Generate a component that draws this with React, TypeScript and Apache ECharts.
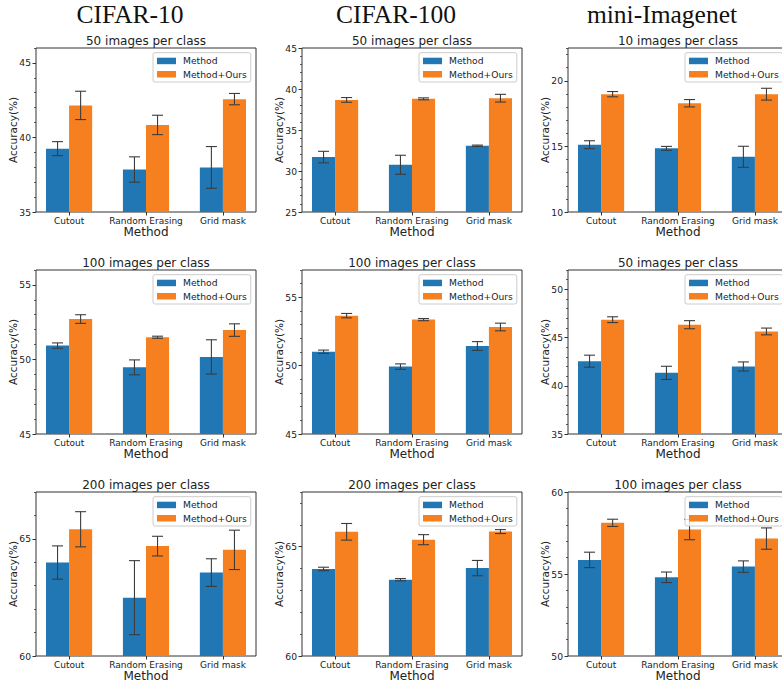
import React, { useEffect, useRef } from "react";
import * as echarts from "echarts";

// ---------- data ----------
const categories = ["Cutout", "Random Erasing", "Grid mask"];
const datasetNames = ["CIFAR-10", "CIFAR-100", "mini-Imagenet"];
const seriesNames = ["Method", "Method+Ours"];

const panelTitles = [
  ["50 images per class", "50 images per class", "10 images per class"],
  ["100 images per class", "100 images per class", "50 images per class"],
  ["200 images per class", "200 images per class", "100 images per class"],
];

// CIFAR-10
const c10_50_method = [39.25, 37.85, 37.99];
const c10_50_methodErr = [0.47, 0.85, 1.4];
const c10_50_ours = [42.15, 40.84, 42.57];
const c10_50_oursErr = [0.95, 0.65, 0.38];
const c10_100_method = [50.93, 49.47, 50.17];
const c10_100_methodErr = [0.18, 0.5, 1.15];
const c10_100_ours = [52.71, 51.49, 51.97];
const c10_100_oursErr = [0.29, 0.07, 0.42];
const c10_200_method = [63.99, 62.49, 63.56];
const c10_200_methodErr = [0.71, 1.58, 0.59];
const c10_200_ours = [65.41, 64.69, 64.53];
const c10_200_oursErr = [0.75, 0.42, 0.84];

// CIFAR-100
const c100_50_method = [31.7, 30.76, 33.08];
const c100_50_methodErr = [0.7, 1.16, 0.08];
const c100_50_ours = [38.67, 38.8, 38.88];
const c100_50_oursErr = [0.29, 0.12, 0.47];
const c100_100_method = [51.02, 49.93, 51.44];
const c100_100_methodErr = [0.12, 0.2, 0.32];
const c100_100_ours = [53.66, 53.37, 52.83];
const c100_100_oursErr = [0.16, 0.08, 0.28];
const c100_200_method = [63.98, 63.49, 64.02];
const c100_200_methodErr = [0.08, 0.05, 0.35];
const c100_200_ours = [65.68, 65.32, 65.69];
const c100_200_oursErr = [0.38, 0.23, 0.09];

// mini-Imagenet
const mini_10_method = [15.13, 14.85, 14.21];
const mini_10_methodErr = [0.3, 0.15, 0.8];
const mini_10_ours = [18.98, 18.29, 18.98];
const mini_10_oursErr = [0.2, 0.28, 0.45];
const mini_50_method = [42.55, 41.34, 42.0];
const mini_50_methodErr = [0.62, 0.68, 0.47];
const mini_50_ours = [46.85, 46.33, 45.63];
const mini_50_oursErr = [0.3, 0.42, 0.35];
const mini_100_method = [55.86, 54.8, 55.45];
const mini_100_methodErr = [0.47, 0.32, 0.35];
const mini_100_ours = [58.12, 57.71, 57.16];
const mini_100_oursErr = [0.22, 0.62, 0.65];

// axis limits and tick labels, [row][col]
const yLimits = [
  [[35, 46], [25, 45], [10, 22.5]],
  [[45, 56], [45, 57], [35, 52]],
  [[60, 67], [60, 67.5], [50, 60]],
];
const yTicks = [
  [[35, 40, 45], [25, 30, 35, 40, 45], [10, 15, 20]],
  [[45, 50, 55], [45, 50, 55], [35, 40, 45, 50]],
  [[60, 65], [60, 65], [50, 55, 60]],
];

const panelData = [
  [
    [c10_50_method, c10_50_methodErr, c10_50_ours, c10_50_oursErr],
    [c100_50_method, c100_50_methodErr, c100_50_ours, c100_50_oursErr],
    [mini_10_method, mini_10_methodErr, mini_10_ours, mini_10_oursErr],
  ],
  [
    [c10_100_method, c10_100_methodErr, c10_100_ours, c10_100_oursErr],
    [c100_100_method, c100_100_methodErr, c100_100_ours, c100_100_oursErr],
    [mini_50_method, mini_50_methodErr, mini_50_ours, mini_50_oursErr],
  ],
  [
    [c10_200_method, c10_200_methodErr, c10_200_ours, c10_200_oursErr],
    [c100_200_method, c100_200_methodErr, c100_200_ours, c100_200_oursErr],
    [mini_100_method, mini_100_methodErr, mini_100_ours, mini_100_oursErr],
  ],
];

// ---------- style / layout ----------
const W = 782;
const H = 687;
const BLUE = "#2077b4";
const ORANGE = "#f6801f";
const ERR = "#3c3c3c";
const AXIS = "#333333";
const TXT = "#222222";
const SANS = "DejaVu Sans";
const PLOT_W = 220;
const PLOT_H = 164;
const COL_LEFT = [36, 302, 568];
const ROW_TOP = [48, 270, 492];
const BAR_W = 0.3;
const CAP = 5.5;
const X_MIN = -0.43;
const X_MAX = 2.43;

function buildOption() {
  const grid: any[] = [];
  const xAxis: any[] = [];
  const yAxis: any[] = [];
  const series: any[] = [];
  const legend: any[] = [];
  const graphic: any[] = [];

  for (let c = 0; c < 3; c++) {
    graphic.push({
      type: "text",
      x: COL_LEFT[c] + 94,
      y: 14.5,
      style: {
        text: datasetNames[c],
        font: "25.5px 'Liberation Serif'",
        fill: "#111",
        textAlign: "center",
        textVerticalAlign: "middle",
      },
    });
  }

  for (let r = 0; r < 3; r++) {
    for (let c = 0; c < 3; c++) {
      const k = r * 3 + c;
      const left = COL_LEFT[c];
      const top = ROW_TOP[r];
      const [lo, hi] = yLimits[r][c];
      const ticks = yTicks[r][c];
      const [mVals, mErr, oVals, oErr] = panelData[r][c];

      grid.push({
        left,
        top,
        width: PLOT_W,
        height: PLOT_H,
        show: true,
        borderColor: AXIS,
        borderWidth: 1,
        backgroundColor: "transparent",
        containLabel: false,
        outerBoundsMode: "none",
      });

      xAxis.push({
        type: "value",
        gridIndex: k,
        position: "bottom",
        min: X_MIN,
        max: X_MAX,
        name: "Method",
        nameLocation: "middle",
        nameGap: 13,
        nameTextStyle: { fontFamily: SANS, fontSize: 12, color: TXT },
        axisLine: { show: false, onZero: false },
        splitLine: { show: false },
        axisTick: {
          show: true,
          length: 3.5,
          customValues: [0, 1, 2],
          lineStyle: { color: AXIS, width: 1 },
        },
        axisLabel: {
          show: true,
          customValues: [0, 1, 2],
          margin: 4,
          fontFamily: SANS,
          fontSize: 9,
          color: TXT,
          formatter: (v: number) => categories[Math.round(v)] ?? "",
        },
      });

      yAxis.push({
        type: "value",
        gridIndex: k,
        position: "left",
        min: lo,
        max: hi,
        name: "Accuracy(%)",
        nameLocation: "middle",
        nameGap: 18,
        nameMoveOverlap: false,
        nameTextStyle: { fontFamily: SANS, fontSize: 10.5, color: TXT },
        axisLine: { show: false, onZero: false },
        splitLine: { show: false },
        axisTick: {
          show: true,
          length: 3.5,
          customValues: ticks,
          lineStyle: { color: AXIS, width: 1 },
        },
        axisLabel: {
          show: true,
          customValues: ticks,
          margin: 5,
          fontFamily: SANS,
          fontSize: 9.2,
          color: TXT,
        },
      });
      // minor ticks
      yAxis.push({
        type: "value",
        gridIndex: k,
        position: "left",
        offset: 0,
        min: lo,
        max: hi,
        interval: 1,
        axisLine: { show: false, onZero: false },
        splitLine: { show: false },
        axisLabel: { show: false },
        axisTick: { show: true, length: 2, lineStyle: { color: AXIS, width: 0.8 } },
      });

      const makeBars = (name: string, vals: number[], color: string, side: number) => ({
        type: "custom",
        name,
        xAxisIndex: k,
        yAxisIndex: 2 * k,
        silent: true,
        clip: true,
        itemStyle: { color },
        data: vals.map((v, i) => [i, v]),
        renderItem: (params: any, api: any) => {
          const x = api.value(0);
          const y = api.value(1);
          const a = api.coord([x + (side < 0 ? -BAR_W : 0), y]);
          const b = api.coord([x + (side < 0 ? 0 : BAR_W), y]);
          const cs = params.coordSys;
          const bottom = cs.y + cs.height;
          return {
            type: "rect",
            shape: { x: a[0], y: a[1], width: b[0] - a[0], height: bottom - a[1] },
            style: { fill: color },
          };
        },
        z: 2,
      });

      const makeErr = (name: string, vals: number[], errs: number[], side: number) => ({
        type: "custom",
        name,
        xAxisIndex: k,
        yAxisIndex: 2 * k,
        silent: true,
        clip: true,
        data: vals.map((v, i) => [i, v, errs[i]]),
        renderItem: (params: any, api: any) => {
          const x = api.value(0) + side * (BAR_W / 2);
          const v = api.value(1);
          const e = api.value(2);
          const t = api.coord([x, v + e]);
          const b = api.coord([x, v - e]);
          const st = { stroke: ERR, lineWidth: 1.1 };
          return {
            type: "group",
            children: [
              { type: "line", shape: { x1: t[0], y1: t[1], x2: b[0], y2: b[1] }, style: st },
              { type: "line", shape: { x1: t[0] - CAP, y1: t[1], x2: t[0] + CAP, y2: t[1] }, style: st },
              { type: "line", shape: { x1: b[0] - CAP, y1: b[1], x2: b[0] + CAP, y2: b[1] }, style: st },
            ],
          };
        },
        z: 3,
      });

      series.push(makeBars(seriesNames[0], mVals, BLUE, -1));
      series.push(makeBars(seriesNames[1], oVals, ORANGE, 1));
      series.push(makeErr("err-" + seriesNames[0], mVals, mErr, -1));
      series.push(makeErr("err-" + seriesNames[1], oVals, oErr, 1));

      legend.push({
        left: left + 117,
        top: top + 4.7,
        orient: "vertical",
        data: [
          { name: seriesNames[0], icon: "rect" },
          { name: seriesNames[1], icon: "rect" },
        ],
        itemWidth: 19,
        itemHeight: 6.5,
        itemGap: 1.8,
        padding: [2.5, 4, 2, 4],
        backgroundColor: "rgba(255,255,255,0.8)",
        borderColor: "#cccccc",
        borderWidth: 1,
        borderRadius: 2,
        selectedMode: false,
        textStyle: {
          fontFamily: SANS,
          fontSize: 9.2,
          color: TXT,
          lineHeight: 11.5,
          padding: [0, 0, 0, 2],
        },
        z: 10,
      });

      graphic.push({
        type: "text",
        x: left + PLOT_W / 2,
        y: top - 7.5,
        style: {
          text: panelTitles[r][c],
          font: `12px '${SANS}'`,
          fill: TXT,
          textAlign: "center",
          textVerticalAlign: "middle",
        },
      });
    }
  }

  return {
    animation: false,
    backgroundColor: "#ffffff",
    grid,
    xAxis,
    yAxis,
    series,
    legend,
    graphic,
  };
}

export default function App() {
  const ref = useRef<HTMLDivElement>(null);
  useEffect(() => {
    if (!ref.current) return;
    const chart = echarts.init(ref.current, undefined, { renderer: "svg" });
    chart.setOption(buildOption() as any);
    return () => chart.dispose();
  }, []);
  return (
    <div
      ref={ref}
      style={{ position: "absolute", left: 0, top: 0, width: W, height: H, background: "#fff" }}
    />
  );
}
